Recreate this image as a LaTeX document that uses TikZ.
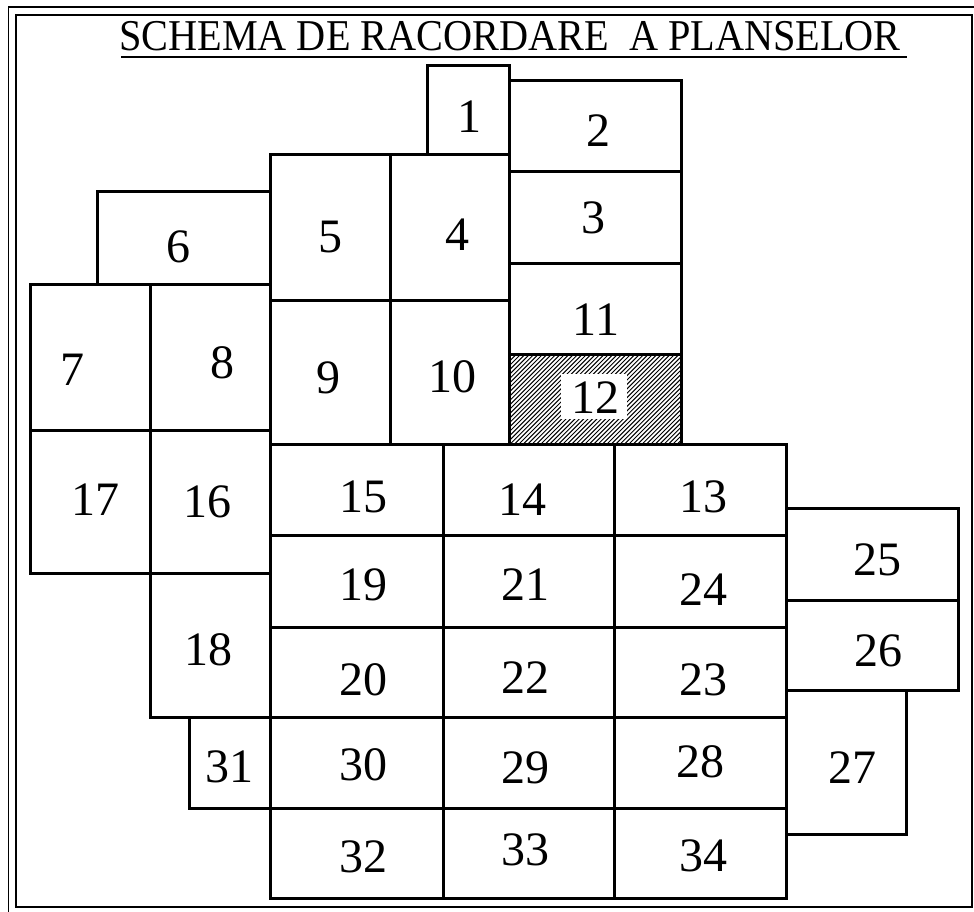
\documentclass[tikz,border=0pt]{standalone}
\usepackage{fontspec}
\setmainfont{Liberation Serif}
\begin{document}
\begin{tikzpicture}[x=1pt,y=-1pt,
  cell/.style={line width=3pt,line join=miter,line cap=rect},
  num/.style={inner sep=0pt,font=\fontsize{48}{50}\selectfont},
  frameline/.style={line width=2pt}]
\useasboundingbox (0,0) rectangle (974,912);
% frame
\draw[line width=1.6pt] (8.5,7) rectangle (978,915);
\draw[frameline] (15.5,15) rectangle (971.5,906.5);
% title
\node[inner sep=0pt,anchor=base,font=\fontsize{44}{46}\selectfont] (title) at (510,51) {\scalebox{0.915}[1]{SCHEMA DE RACORDARE\ \ A PLANSELOR}};
\draw[line width=2pt] (121,57) -- (907,57);
% hatching of cell 12
\begin{scope}
\clip (509,354) rectangle (681,444);
\foreach \i in {-100,-95.6,...,190} \draw[line width=1pt] (509+\i,444) -- ++(100,-100);
\end{scope}
% cells
\foreach \a/\b/\c/\d in {427/66/509/155, 509/81/681/172, 509/172/681/263, 509/263/681/354, 509/354/681/444,
  270/155/390/300, 390/155/509/300, 270/300/390/444, 390/300/509/444,
  97/192/270/284, 30/284/150/430, 150/284/270/430, 30/430/150/573, 150/430/270/573,
  150/573/270/717, 189/717/270/808,
  270/444/443/535, 443/444/614/535, 614/444/786/535,
  270/535/443/627, 443/535/614/627, 614/535/786/627,
  270/627/443/717, 443/627/614/717, 614/627/786/717,
  270/717/443/808, 443/717/614/808, 614/717/786/808,
  270/808/443/898, 443/808/614/898, 614/808/786/898,
  786/508/958/600, 786/600/958/690, 786/690/906/834}
  \draw[cell] (\a,\b) rectangle (\c,\d);
% labels
\node[num] (n1) at (469,117) {1};
\node[num] (n2) at (598,131) {2};
\node[num] (n3) at (593,218) {3};
\node[num] (n11) at (596,320) {11};
\node[fill=white,minimum width=66pt,minimum height=45pt,inner sep=0pt] (w12) at (594,396) {};
\node[num] (n12) at (595,398) {12};
\node[num] (n5) at (330,237) {5};
\node[num] (n4) at (457,235) {4};
\node[num] (n6) at (178,247) {6};
\node[num] (n7) at (72,370) {7};
\node[num] (n8) at (222,363) {8};
\node[num] (n9) at (328,378) {9};
\node[num] (n10) at (452,377) {10};
\node[num] (n17) at (95,500) {17};
\node[num] (n16) at (207,502) {16};
\node[num] (n15) at (363,497) {15};
\node[num] (n14) at (522,500) {14};
\node[num] (n13) at (703,497) {13};
\node[num] (n19) at (363,585) {19};
\node[num] (n21) at (525,585) {21};
\node[num] (n24) at (703,590) {24};
\node[num] (n20) at (363,680) {20};
\node[num] (n22) at (525,678) {22};
\node[num] (n23) at (703,680) {23};
\node[num] (n18) at (208,650) {18};
\node[num] (n31) at (229,767) {31};
\node[num] (n30) at (363,765) {30};
\node[num] (n29) at (525,768) {29};
\node[num] (n28) at (700,762) {28};
\node[num] (n32) at (363,857) {32};
\node[num] (n33) at (525,850) {33};
\node[num] (n34) at (703,856) {34};
\node[num] (n25) at (877,560) {25};
\node[num] (n26) at (878,651) {26};
\node[num] (n27) at (852,768) {27};
\end{tikzpicture}
\end{document}
